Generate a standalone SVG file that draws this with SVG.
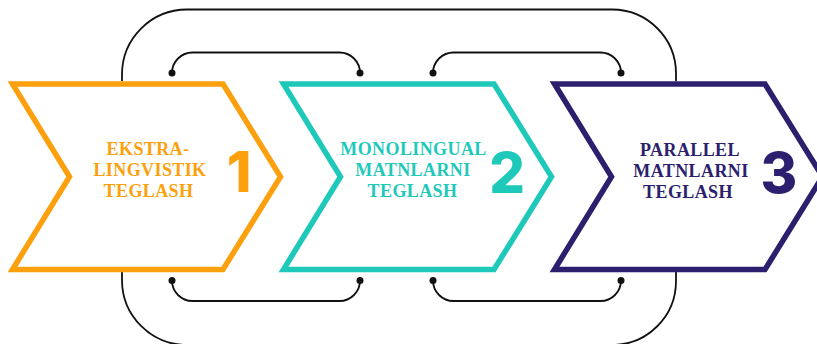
<svg xmlns="http://www.w3.org/2000/svg" width="817" height="344" viewBox="0 0 817 344">
<defs>
<style>
.conn{fill:none;stroke:#111;stroke-width:1.8}
.dot{fill:#111}
.chev{fill:#fff;stroke-width:5.5;stroke-linejoin:miter}
.lbl{font-family:"Liberation Serif","Times New Roman",serif;font-weight:700;font-size:18px;letter-spacing:0.4px;text-anchor:middle}
.num{font-family:Inter,"Open Sans",sans-serif;font-weight:800;font-size:56px;text-anchor:middle}
.c1{stroke:#FCA10D}.t1{fill:#FCA10D}
.c2{stroke:#1FC9BA}.t2{fill:#1FC9BA}
.c3{stroke:#2C1F6E}.t3{fill:#2C1F6E}
</style>
</defs>
<g id="connectors">
<path class="conn" d="M122,81 V74.5 A65,65 0 0 1 187,9.5 H612 A64,64 0 0 1 676,73.5 V81"/>
<path class="conn" d="M122,272 V280 A65,65 0 0 0 187,345 H612 A64,64 0 0 0 676,281 V272"/>
<path class="conn" d="M172,73 A20.5,20.5 0 0 1 192.5,52.5 H339.5 A20.5,20.5 0 0 1 360,73"/>
<path class="conn" d="M433,73 A20.5,20.5 0 0 1 453.5,52.5 H600.5 A20.5,20.5 0 0 1 621,73"/>
<path class="conn" d="M172,280.5 A20.5,20.5 0 0 0 192.5,301 H339.5 A20.5,20.5 0 0 0 360,280.5"/>
<path class="conn" d="M433,280.5 A20.5,20.5 0 0 0 453.5,301 H600.5 A20.5,20.5 0 0 0 621,280.5"/>
<circle class="dot" cx="172" cy="73" r="3.5"/>
<circle class="dot" cx="360" cy="73" r="3.5"/>
<circle class="dot" cx="433" cy="73" r="3.5"/>
<circle class="dot" cx="621" cy="73" r="3.5"/>
<circle class="dot" cx="172" cy="280.5" r="3.5"/>
<circle class="dot" cx="360" cy="280.5" r="3.5"/>
<circle class="dot" cx="433" cy="280.5" r="3.5"/>
<circle class="dot" cx="621" cy="280.5" r="3.5"/>
</g>
<g id="step1">
<polygon class="chev c1" points="12.5,84 223,84 280.5,176.7 223,269.5 12.5,269.5 69.5,176.7"/>
<text class="lbl t1" x="148" y="155">EKSTRA-</text>
<text class="lbl t1" x="150" y="176">LINGVISTIK</text>
<text class="lbl t1" x="148.5" y="197">TEGLASH</text>
<text class="num t1" x="239" y="192">1</text>
</g>
<g id="step2">
<polygon class="chev c2" points="283.5,84 494,84 551.5,176.7 494,269.5 283.5,269.5 340.5,176.7"/>
<text class="lbl t2" x="413.5" y="155">MONOLINGUAL</text>
<text class="lbl t2" x="413" y="176">MATNLARNI</text>
<text class="lbl t2" x="412.5" y="197">TEGLASH</text>
<text class="num t2" x="507" y="193">2</text>
</g>
<g id="step3">
<polygon class="chev c3" points="554.5,84 765,84 822.5,176.7 765,269.5 554.5,269.5 611.5,176.7"/>
<text class="lbl t3" x="690" y="156">PARALLEL</text>
<text class="lbl t3" x="691" y="177">MATNLARNI</text>
<text class="lbl t3" x="688" y="198">TEGLASH</text>
<text class="num t3" x="779" y="193">3</text>
</g>
</svg>
